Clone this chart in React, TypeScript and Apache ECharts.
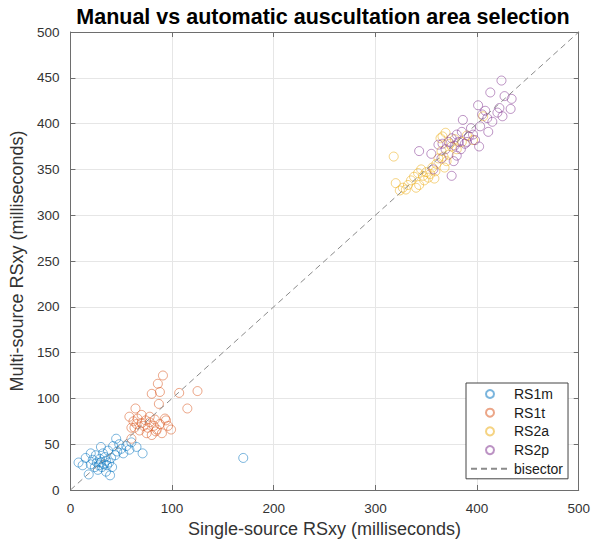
import React, { useEffect, useRef } from "react";
import * as echarts from "echarts";

const xTicks = [0, 100, 200, 300, 400, 500];
const yTicks = [0, 50, 100, 150, 200, 250, 300, 350, 400, 450, 500];

const rs1m: [number, number][] = [
  [8, 30], [12, 27], [15, 35], [18, 17], [20, 28], [20, 40], [22, 33], [24, 25], [25, 38], [26, 30],
  [27, 22], [28, 27], [29, 34], [30, 47], [30, 30], [31, 25], [32, 40], [33, 28], [34, 36], [35, 32],
  [35, 20], [36, 27], [37, 43], [38, 30], [39, 16], [40, 35], [41, 25], [42, 48], [44, 38], [45, 56],
  [46, 42], [48, 50], [50, 45], [52, 40], [55, 48], [58, 44], [60, 52], [65, 47], [71, 40], [170, 35],
];

const rs1t: [number, number][] = [
  [58, 80], [60, 56], [60, 68], [62, 75], [63, 68], [64, 89], [65, 72], [66, 78], [68, 65], [70, 73],
  [70, 82], [72, 70], [74, 76], [75, 62], [76, 68], [78, 74], [78, 80], [80, 60], [80, 105], [82, 70],
  [83, 77], [84, 64], [85, 66], [86, 116], [87, 94], [88, 107], [88, 72], [90, 62], [91, 125], [93, 78],
  [94, 76], [96, 70], [99, 66], [107, 106], [115, 89], [125, 108],
];

const rs2a: [number, number][] = [
  [318, 364], [320, 335], [324, 327], [327, 330], [330, 328], [332, 333], [335, 338], [338, 342], [340, 330], [342, 346],
  [343, 333], [345, 350], [347, 343], [348, 338], [350, 347], [352, 341], [354, 345], [356, 352], [358, 340], [359, 348],
  [360, 356], [362, 362], [364, 384], [365, 370], [366, 386], [367, 364], [368, 352], [369, 390], [370, 359], [372, 366],
  [373, 378], [375, 375], [378, 383], [380, 372], [385, 380], [390, 387], [396, 382], [406, 408],
];

const rs2p: [number, number][] = [
  [343, 370], [355, 367], [357, 350], [362, 377], [365, 362], [366, 378], [369, 372], [372, 380], [375, 343], [375, 384],
  [377, 359], [378, 376], [380, 388], [380, 365], [382, 380], [384, 372], [385, 391], [386, 404], [388, 378], [390, 380],
  [392, 386], [394, 395], [396, 388], [398, 382], [401, 420], [402, 375], [403, 397], [405, 410], [408, 414], [410, 406],
  [411, 391], [413, 434], [415, 402], [420, 412], [422, 417], [424, 447], [425, 408], [427, 430], [433, 416], [434, 427],
];

const bisector: [number, number][] = [
  [0, 0],
  [500, 500],
];

const seriesNames = ["RS1m", "RS1t", "RS2a", "RS2p", "bisector"];
const seriesColors = ["rgba(0,114,189,0.65)", "rgba(217,83,25,0.65)", "rgba(237,177,32,0.7)", "rgba(126,47,142,0.65)", "#8a8a8a"];

const FONT = "'Liberation Sans', Arial, Helvetica, sans-serif";

export default function App() {
  const ref = useRef<HTMLDivElement>(null);
  useEffect(() => {
    document.body.style.margin = "0";
    if (!ref.current) return;
    const chart = echarts.init(ref.current, undefined, { renderer: "svg" });
    const scatterData = [rs1m, rs1t, rs2a, rs2p];
    const axisColor = "#6e6e6e";
    const labelColor = "#333333";
    const baseAxis = {
      min: 0,
      max: 500,
      axisLine: { show: true, onZero: false, lineStyle: { color: axisColor, width: 1 } },
      axisTick: { show: true, inside: true, length: 5, lineStyle: { color: axisColor } },
    };
    chart.setOption({
      animation: false,
      textStyle: { fontFamily: FONT },
      graphic: [
        {
          type: "text",
          x: 323,
          y: 17,
          style: {
            text: "Manual vs automatic auscultation area selection",
            fontSize: 21.5,
            fontWeight: "bold",
            fontFamily: FONT,
            fill: "#000",
            align: "center",
            verticalAlign: "middle",
            textAlign: "center",
            textVerticalAlign: "middle",
          },
        },
      ],
      grid: { left: 64, right: 14, top: 32, bottom: 54, containLabel: false },
      xAxis: [
        {
          ...baseAxis,
          type: "value",
          position: "bottom",
          interval: 100,
          name: "Single-source RSxy (milliseconds)",
          nameLocation: "middle",
          nameGap: 23,
          nameTextStyle: { fontSize: 18, color: labelColor, fontFamily: FONT },
          axisLabel: {
            fontSize: 13.5,
            color: labelColor,
            margin: 11,
            fontFamily: FONT,
            formatter: (v: number) => (xTicks.includes(v) ? String(v) : ""),
          },
          splitLine: { show: true, lineStyle: { color: "#e6e6e6", width: 1 } },
        },
        {
          ...baseAxis,
          type: "value",
          position: "top",
          interval: 100,
          axisLabel: { show: false },
          splitLine: { show: false },
        },
      ],
      yAxis: [
        {
          ...baseAxis,
          type: "value",
          position: "left",
          interval: 50,
          name: "Multi-source RSxy (milliseconds)",
          nameLocation: "middle",
          nameGap: 36,
          nameRotate: 90,
          nameTextStyle: { fontSize: 18, color: labelColor, fontFamily: FONT },
          axisLabel: {
            fontSize: 13.5,
            color: labelColor,
            margin: 11,
            fontFamily: FONT,
            formatter: (v: number) => (yTicks.includes(v) ? String(v) : ""),
          },
          splitLine: { show: true, lineStyle: { color: "#e6e6e6", width: 1 } },
        },
        {
          ...baseAxis,
          type: "value",
          position: "right",
          interval: 50,
          axisLabel: { show: false },
          splitLine: { show: false },
        },
      ],
      legend: {
        orient: "vertical",
        left: 466,
        top: 383,
        padding: [4, 5, 3, 4],
        itemGap: 4.7,
        itemWidth: 38,
        itemHeight: 8,
        backgroundColor: "#ffffff",
        borderColor: "#444444",
        borderWidth: 1,
        borderRadius: 0,
        textStyle: { fontSize: 14, color: "#1a1a1a", fontFamily: FONT },
        data: [
          ...seriesNames.slice(0, 4).map((n) => ({ name: n })),
          { name: seriesNames[4], itemStyle: { opacity: 0 } },
        ],
      },
      series: [
        ...scatterData.map((d, i) => ({
          name: seriesNames[i],
          type: "scatter",
          data: d,
          symbol: "circle",
          symbolSize: 9,
          itemStyle: { color: "rgba(255,255,255,0)", borderColor: seriesColors[i], borderWidth: 1 },
          emphasis: { disabled: true },
        })),
        {
          name: seriesNames[4],
          type: "line",
          data: bisector,
          showSymbol: false,
          symbol: "none",
          lineStyle: { color: seriesColors[4], width: 1, type: [6, 4] },
          itemStyle: { color: seriesColors[4] },
          z: 5,
          emphasis: { disabled: true },
        },
      ],
    });
    return () => chart.dispose();
  }, []);
  return <div ref={ref} style={{ width: 593, height: 544 }} />;
}
